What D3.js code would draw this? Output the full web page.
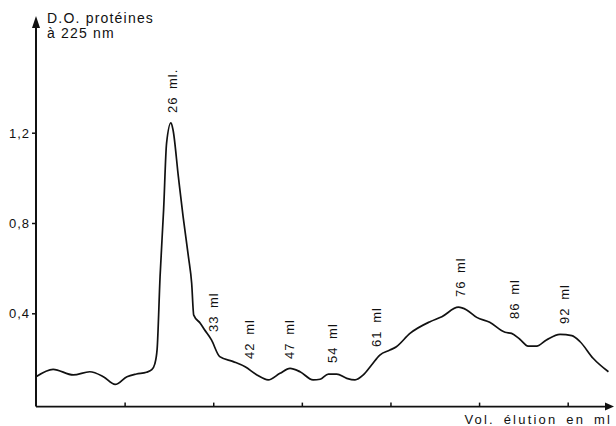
<!DOCTYPE html>
<html>
<head>
<meta charset="utf-8">
<script src="https://cdn.jsdelivr.net/npm/d3@7"></script>
<style>
    body{margin:0;background:#fff;}
    svg text{font-family:"Liberation Sans",Arial,sans-serif;fill:#111;}
</style>
</head>
<body>
<div id="chart"></div>
<script>
// elution profile, volume in ml / optical density at 225 nm
const volumes = [3.0,5.9,9.3,12.1,14.4,16.4,18.4,20.0,21.7,22.6,23.1,23.5,24.0,24.6,25.1,25.85,26.2,27.1,27.9,28.8,29.35,29.7,30.8,31.5,32.7,34.1,36.4,38.4,40.4,42.3,44.3,46.0,47.7,49.9,51.1,52.5,53.9,55.6,57.0,58.4,59.8,61.2,62.9,64.0,66.3,69.7,71.7,74.5,75.9,77.6,79.8,82.4,83.5,84.9,86.3,87.75,89.4,91.7,93.7,95.1,97.3,99.9];
const densities = [0.119,0.152,0.127,0.141,0.119,0.085,0.119,0.131,0.139,0.150,0.175,0.240,0.562,0.858,1.153,1.244,1.212,1.005,0.828,0.651,0.533,0.392,0.356,0.328,0.282,0.208,0.186,0.163,0.127,0.105,0.134,0.156,0.141,0.105,0.108,0.131,0.131,0.112,0.105,0.127,0.171,0.215,0.237,0.252,0.311,0.363,0.385,0.427,0.415,0.382,0.360,0.316,0.311,0.285,0.255,0.255,0.282,0.307,0.301,0.274,0.201,0.141];

// fraction labels and where they stand (ml, D.O.)
const peakLabels = ["26 ml.","33 ml","42 ml","47 ml","54 ml","61 ml","76 ml","86 ml","92 ml"];
const peakVol = [26.0,33.0,39.1,45.8,53.1,60.5,74.8,83.9,92.4];
const peakOD = [1.287,0.317,0.198,0.198,0.180,0.251,0.472,0.375,0.353];

const yTicks = [0.4,0.8,1.2];
const yTickLabels = ["0,4","0,8","1,2"];
const xTicks = [18,33,48,63,78,93];

const yTitle = ["D.O. protéines","à 225 nm"];
const xTitle = "Vol. élution en ml";

let width = 616, height = 426;
let svg = d3.select("#chart").append("svg").attr("width",width).attr("height",height);

let x = d3.scaleLinear().domain([3,100.5]).range([36,612]);
let y = d3.scaleLinear().domain([0,1.2]).range([403.6,132.7]);
let axisY = y(0)+3;

// axes
let gx = svg.append("g").attr("transform","translate(0,"+axisY+")");
gx.call(d3.axisBottom(x).tickValues(xTicks).tickSize(-4).tickFormat(""));
gx.select(".domain").remove();
gx.selectAll(".tick line").attr("stroke","#111").attr("stroke-width",1.5);
gx.append("line").attr("x1",x(3)).attr("x2",x(100.5)-6).attr("stroke","#111").attr("stroke-width",1.7);
gx.append("path").attr("d","M"+(x(100.5)+2)+",0 L"+(x(100.5)-7)+",-4 L"+(x(100.5)-7)+",4 Z").attr("fill","#111");

let gy = svg.append("g").attr("transform","translate("+x(3)+",0)");
gy.call(d3.axisLeft(y).tickValues(yTicks).tickSize(4).tickFormat((d,i)=>yTickLabels[i]));
gy.select(".domain").remove();
gy.selectAll(".tick line").attr("stroke","#111").attr("stroke-width",1.5);
gy.selectAll(".tick text").attr("font-size",13).attr("letter-spacing","1px").attr("x",-6).attr("dy","0.35em");
gy.append("line").attr("y1",axisY).attr("y2",26).attr("stroke","#111").attr("stroke-width",2);
gy.append("path").attr("d","M0,16 L-4,28 L4,28 Z").attr("fill","#111");

// axis titles
svg.append("text").attr("x",47).attr("y",23).attr("font-size",14).attr("letter-spacing","1.2px").text(yTitle[0]);
svg.append("text").attr("x",47).attr("y",38).attr("font-size",14).attr("letter-spacing","1.2px").text(yTitle[1]);
svg.append("text").attr("x",612).attr("y",424).attr("text-anchor","end")
    .attr("font-size",13).attr("letter-spacing","2.2px").attr("word-spacing","3px").text(xTitle);

// elution curve
let pts = volumes.map((v,i)=>[v,densities[i]]);
let line = d3.line().x(d=>x(d[0])).y(d=>y(d[1])).curve(d3.curveMonotoneX);
svg.append("path").datum(pts).attr("d",line)
    .attr("fill","none").attr("stroke","#111").attr("stroke-width",1.7).attr("stroke-linejoin","round");

// vertical fraction labels
svg.selectAll("text.peak").data(peakLabels).enter().append("text")
    .attr("class","peak")
    .attr("font-size",13).attr("letter-spacing","1px").attr("word-spacing","3px")
    .attr("transform",(d,i)=>"translate("+(x(peakVol[i])+5)+","+y(peakOD[i])+") rotate(-90)")
    .text(d=>d);
</script>
</body>
</html>
